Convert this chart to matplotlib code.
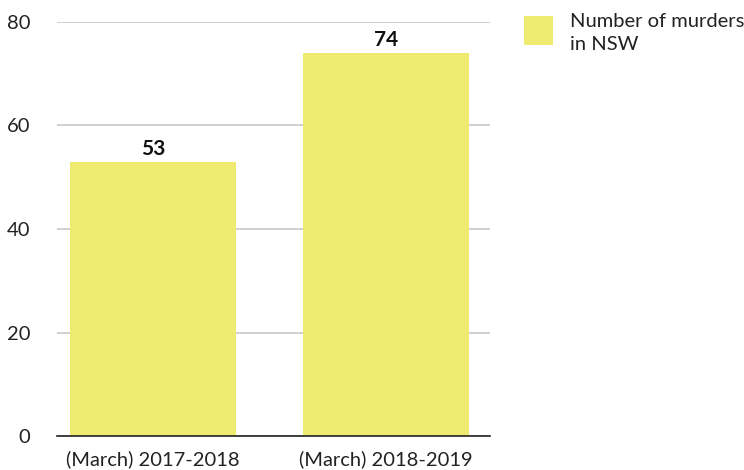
import matplotlib
matplotlib.use("Agg")
import matplotlib.pyplot as plt
from matplotlib.patches import Rectangle

plt.rcParams['font.family'] = ['Lato', 'DejaVu Sans']

categories = ["(March) 2017-2018", "(March) 2018-2019"]
murders = [53, 74]
series_name = "Number of murders\nin NSW"
yticks = [0, 20, 40, 60, 80]

bar_color = "#EFEB71"

fig = plt.figure(figsize=(7.44, 4.70), dpi=100)
ax = fig.add_axes([0.0766, 0.0723, 0.582, 0.881])

x = list(range(len(categories)))
ax.bar(x, murders, width=0.712, color=bar_color, zorder=2)
for xi, v in zip(x, murders):
    ax.text(xi, v + 0.6, str(v), ha="center", va="bottom",
            fontsize=15, fontweight="bold", color="#111111")

ax.set_xlim(-0.412, 1.446)
ax.set_ylim(0, 80)
ax.set_yticks(yticks)
ax.set_xticks(x)
ax.set_xticklabels(categories)
ax.yaxis.grid(True, color="#c8c8c8", linewidth=1.2, zorder=0)
ax.set_axisbelow(True)
for s in ["top", "right", "left"]:
    ax.spines[s].set_visible(False)
ax.spines["bottom"].set_color("#222222")
ax.spines["bottom"].set_linewidth(1.2)
ax.spines["bottom"].set_zorder(3)
ax.tick_params(axis="both", length=0, labelsize=14.5, colors="#222222")
ax.tick_params(axis="y", pad=19)
ax.tick_params(axis="x", pad=10)
for lbl in ax.get_yticklabels():
    lbl.set_horizontalalignment("right")

# legend
fig.patches.append(Rectangle((524 / 744, 1 - 45 / 470), 29 / 744, 29 / 470,
                             transform=fig.transFigure, facecolor=bar_color,
                             edgecolor="none"))
fig.text(570 / 744, 1 - 13 / 470, series_name, ha="left", va="top",
         fontsize=14.5, color="#222222", linespacing=1.4)

fig.savefig("out.png", dpi=100)
